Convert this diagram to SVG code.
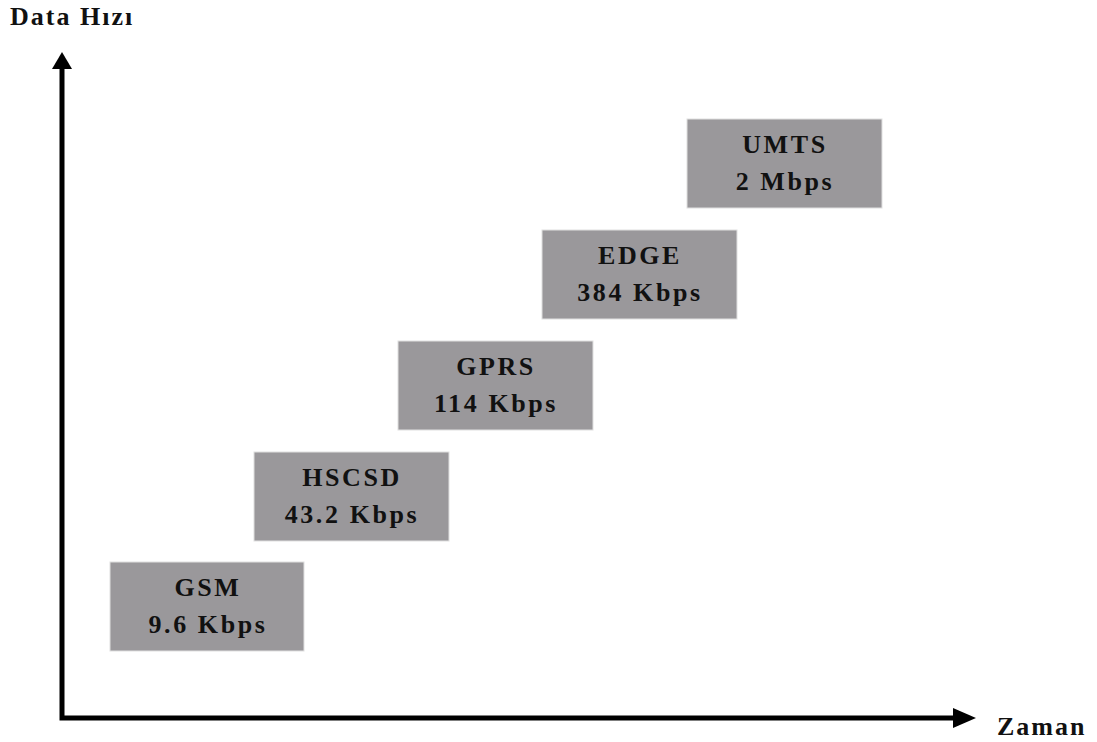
<svg xmlns="http://www.w3.org/2000/svg" width="1097" height="742" viewBox="0 0 1097 742">
<style>
.box{fill:#9a989b;stroke:#e0e0e0;stroke-width:1}
.t{font-family:"Liberation Serif",serif;font-weight:bold;font-size:26px;fill:#111;text-anchor:middle;letter-spacing:2.6px}
.ax{font-family:"Liberation Serif",serif;font-weight:bold;font-size:26px;fill:#111;letter-spacing:2px}
.axis{stroke:#000;stroke-width:5;fill:none}
</style>
<rect width="1097" height="742" fill="#fff"/>
<g id="connectors">
<path class="axis" d="M62,66 V718 H955"/>
<polygon points="62,52 72,69 52,69" fill="#000"/>
<polygon points="976,718 953,708 953,728" fill="#000"/>
</g>
<g id="label-y"><text class="ax" x="10" y="25">Data Hızı</text></g>
<g id="label-x"><text class="ax" x="997" y="735">Zaman</text></g>
<g id="gsm"><rect class="box" x="110" y="562" width="194" height="89"/><text class="t" x="208" y="596">GSM</text><text class="t" x="208" y="633">9.6 Kbps</text></g>
<g id="hscsd"><rect class="box" x="254" y="452" width="195" height="89"/><text class="t" x="352" y="486">HSCSD</text><text class="t" x="352" y="523">43.2 Kbps</text></g>
<g id="gprs"><rect class="box" x="398" y="341" width="195" height="89"/><text class="t" x="496" y="375">GPRS</text><text class="t" x="496" y="412">114 Kbps</text></g>
<g id="edge"><rect class="box" x="542" y="230" width="195" height="89"/><text class="t" x="640" y="264">EDGE</text><text class="t" x="640" y="301">384 Kbps</text></g>
<g id="umts"><rect class="box" x="687" y="119" width="195" height="89"/><text class="t" x="785" y="153">UMTS</text><text class="t" x="785" y="190">2 Mbps</text></g>
</svg>
